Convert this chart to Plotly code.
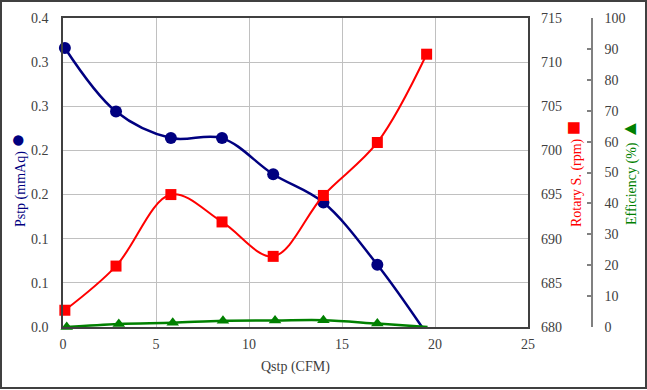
import plotly.graph_objects as go

# ---- data ----
q_pstp = [0.1, 2.85, 5.8, 8.55, 11.3, 14.0, 16.9, 19.3]
pstp = [0.316, 0.244, 0.214, 0.214, 0.173, 0.141, 0.0705, 0.0]

q_rot = [0.1, 2.85, 5.8, 8.55, 11.3, 14.0, 16.9, 19.55]
rotary = [681.9, 686.9, 695.0, 691.9, 688.0, 694.9, 700.9, 710.9]

q_eff = [0.2, 3.0, 5.9, 8.6, 11.4, 14.0, 16.9, 19.6]
efficiency = [0.0, 1.0, 1.4, 2.0, 2.1, 2.2, 1.1, 0.0]

left_tickvals = [0, 0.05, 0.1, 0.15, 0.2, 0.25, 0.3, 0.35]
left_ticktext = ["0.0", "0.1", "0.1", "0.2", "0.2", "0.3", "0.3", "0.4"]
x_ticks = [0, 5, 10, 15, 20, 25]
rot_ticks = [680, 685, 690, 695, 700, 705, 710, 715]
eff_ticks = [0, 10, 20, 30, 40, 50, 60, 70, 80, 90, 100]

FONT = "Liberation Serif"
TICKC = "#404040"

W, H = 647, 390
L, R_EDGE, T, B = 63, 592, 18, 327  # pixel geometry
PW, PH = R_EDGE - L, B - T
dom_end = (528 - L) / PW


def px(xp):
    return (xp - L) / PW


def py(yp):
    return (B - yp) / PH


fig = go.Figure()

fig.add_trace(go.Scatter(
    x=q_pstp, y=pstp, mode="lines+markers", yaxis="y",
    line=dict(color="#000080", width=2.5, shape="spline", smoothing=1),
    marker=dict(symbol="circle", size=[12] * 7 + [0], color="#000080",
                line=dict(width=0), opacity=1),
    cliponaxis=False, showlegend=False))

fig.add_trace(go.Scatter(
    x=q_rot, y=rotary, mode="lines+markers", yaxis="y2",
    line=dict(color="#FF0000", width=2, shape="spline", smoothing=1),
    marker=dict(symbol="square", size=11, color="#FF0000",
                line=dict(width=0), opacity=1),
    cliponaxis=False, showlegend=False))

fig.add_trace(go.Scatter(
    x=q_eff, y=efficiency, mode="lines+markers", yaxis="y3",
    line=dict(color="#008000", width=2.5, shape="spline", smoothing=1),
    marker=dict(symbol="triangle-up", size=[11] * 7 + [0], color="#008000",
                line=dict(width=0), opacity=1),
    cliponaxis=False, showlegend=False))

fig.update_layout(
    width=W, height=H,
    margin=dict(l=L, r=W - R_EDGE, t=T, b=H - B, pad=0, autoexpand=False),
    paper_bgcolor="white", plot_bgcolor="white",
    font=dict(family=FONT, size=14, color=TICKC),
    xaxis=dict(
        domain=[0, dom_end], range=[0, 25], tickvals=x_ticks,
        showgrid=True, gridcolor="#c0c0c0", gridwidth=1,
        showline=True, linecolor="#404040", linewidth=1.5, mirror=True,
        zeroline=False, ticks="", ticklabelstandoff=3, automargin=False,
        tickfont=dict(family=FONT, size=14, color=TICKC),
    ),
    yaxis=dict(
        range=[0, 0.35], tickvals=left_tickvals, ticktext=left_ticktext,
        showgrid=True, gridcolor="#c0c0c0", gridwidth=1,
        showline=True, linecolor="#404040", linewidth=1.5, mirror=True,
        zeroline=False, ticks="", ticklabelstandoff=10, automargin=False,
        tickfont=dict(family=FONT, size=14, color=TICKC),
    ),
    yaxis2=dict(
        range=[680, 715], tickvals=rot_ticks, overlaying="y", side="right",
        anchor="x", showgrid=False, showline=False, zeroline=False,
        ticks="", ticklabelstandoff=12, automargin=False,
        tickfont=dict(family=FONT, size=14, color=TICKC),
    ),
    yaxis3=dict(
        range=[0, 100], tickvals=eff_ticks, overlaying="y", side="right",
        anchor="free", position=1, showgrid=False, showline=True,
        linecolor="#808080", linewidth=1.5, zeroline=False,
        ticks="inside", ticklen=4, tickcolor="#808080", tickwidth=1.5,
        ticklabelstandoff=9, automargin=False,
        tickfont=dict(family=FONT, size=14, color=TICKC),
    ),
    annotations=[
        dict(text="Qstp (CFM)", xref="paper", yref="paper",
             x=px(295), y=py(367), showarrow=False,
             font=dict(family=FONT, size=14, color=TICKC),
             xanchor="center", yanchor="middle"),
        dict(text="Pstp (mmAq) <span style='font-size:24px'>●</span>",
             xref="paper", yref="paper", x=px(17), y=py(180), textangle=-90,
             showarrow=False, font=dict(family=FONT, size=14, color="#000080"),
             xanchor="center", yanchor="middle"),
        dict(text="Rotary S. (rpm) <span style='font-size:24px'>■</span>",
             xref="paper", yref="paper", x=px(573), y=py(174), textangle=-90,
             showarrow=False, font=dict(family=FONT, size=14, color="#FF0000"),
             xanchor="center", yanchor="middle"),
        dict(text="Efficiency (%) <span style='font-size:20px'>▲</span>",
             xref="paper", yref="paper", x=px(629), y=py(172), textangle=-90,
             showarrow=False, font=dict(family=FONT, size=14, color="#008000"),
             xanchor="center", yanchor="middle"),
    ],
    shapes=[
        dict(type="rect", xref="paper", yref="paper",
             x0=px(1), x1=px(646), y0=py(388), y1=py(1),
             line=dict(color="#404040", width=2), fillcolor="rgba(0,0,0,0)",
             layer="above"),
    ],
)

fig.write_html(
    "out.html",
    config={"displayModeBar": False},
    post_script="document.body.style.margin='0';document.body.style.overflow='hidden';",
)
